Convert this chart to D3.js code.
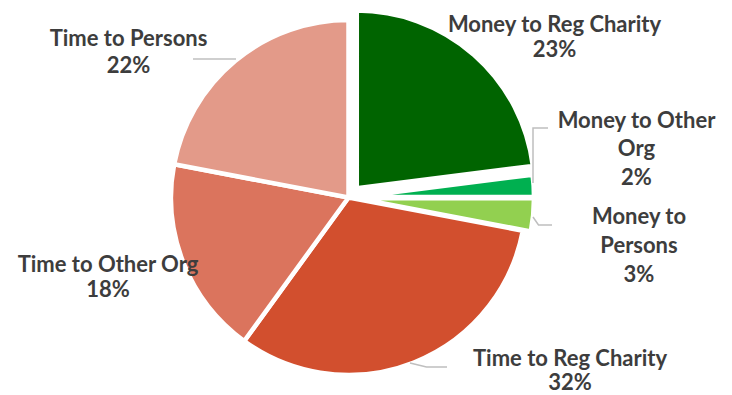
<!DOCTYPE html>
<html>
<head>
<meta charset="utf-8">
<script src="https://cdn.jsdelivr.net/npm/d3@7/dist/d3.min.js"></script>
<style>
  html, body { margin: 0; padding: 0; background: #ffffff; }
  svg { display: block; }
  .lbl { font-family: Lato, "Open Sans", sans-serif; font-weight: 700; font-size: 22px; fill: #3d3d3d; }
</style>
</head>
<body>
<svg id="chart" width="732" height="395"></svg>
<script>
// Share of giving by type (percent)
const categories = [
  "Money to Reg Charity",
  "Money to Other Org",
  "Money to Persons",
  "Time to Reg Charity",
  "Time to Other Org",
  "Time to Persons"
];
const values = [23, 2, 3, 32, 18, 22];
const colors = ["#006400", "#00B050", "#92D050", "#D24F2E", "#DB745D", "#E39A89"];
// label text, split into lines as displayed
const labelLines = [
  ["Money to Reg Charity", "23%"],
  ["Money to Other", "Org", "2%"],
  ["Money to", "Persons", "3%"],
  ["Time to Reg Charity", "32%"],
  ["Time to Other Org", "18%"],
  ["Time to Persons", "22%"]
];

const svg = d3.select("#chart");
const cx = 348.5, cy = 197.5, R = 177.5;
// pulled-out distance of the money slices
const explode = [12.5, 8, 8, 0, 0, 0];

// label block anchors relative to the pie centre: [x, first baseline, line step]
const labelLayout = [
  [206, -166, 25],
  [288, -70, 28.7],
  [290.5, 26.5, 29],
  [221.5, 168, 24.5],
  [-240.5, 74.5, 25],
  [-220, -152, 27]
];
// leader lines, relative to the pie centre
const leaders = [
  null,
  [[184.5, -14.5], [184.5, -69.5], [199.5, -69.5]],
  [[184.5, 19.5], [190, 27.5], [203.5, 27.5]],
  [[61.5, 165.5], [78, 169.5], [98.5, 169.5]],
  null,
  [[-155.5, -138.5], [-112.5, -138.5]]
];

const pie = d3.pie().sort(null).value(d => d).startAngle(0).endAngle(2 * Math.PI);
const arcs = pie(values);
const arc = d3.arc().innerRadius(0).outerRadius(R);

const g = svg.append("g").attr("transform", `translate(${cx},${cy})`);

g.selectAll("path.slice")
  .data(arcs)
  .join("path")
  .attr("class", "slice")
  .attr("transform", (d, i) => {
    const a = (d.startAngle + d.endAngle) / 2;
    return `translate(${explode[i] * Math.sin(a)},${-explode[i] * Math.cos(a)})`;
  })
  .attr("d", arc)
  .attr("fill", (d, i) => colors[i])
  .attr("stroke", "#ffffff")
  .attr("stroke-width", 4.5)
  .attr("stroke-linejoin", "miter");

const line = d3.line();
g.selectAll("path.leader")
  .data(leaders.filter(d => d))
  .join("path")
  .attr("class", "leader")
  .attr("d", d => line(d))
  .attr("fill", "none")
  .attr("stroke", "#BFBFBF")
  .attr("stroke-width", 1.5);

labelLines.forEach((lines, i) => {
  const [lx, ly, step] = labelLayout[i];
  const t = g.append("text").attr("class", "lbl").attr("text-anchor", "middle");
  lines.forEach((s, k) => {
    t.append("tspan").attr("x", lx).attr("y", ly + k * step).text(s);
  });
});
</script>
</body>
</html>
